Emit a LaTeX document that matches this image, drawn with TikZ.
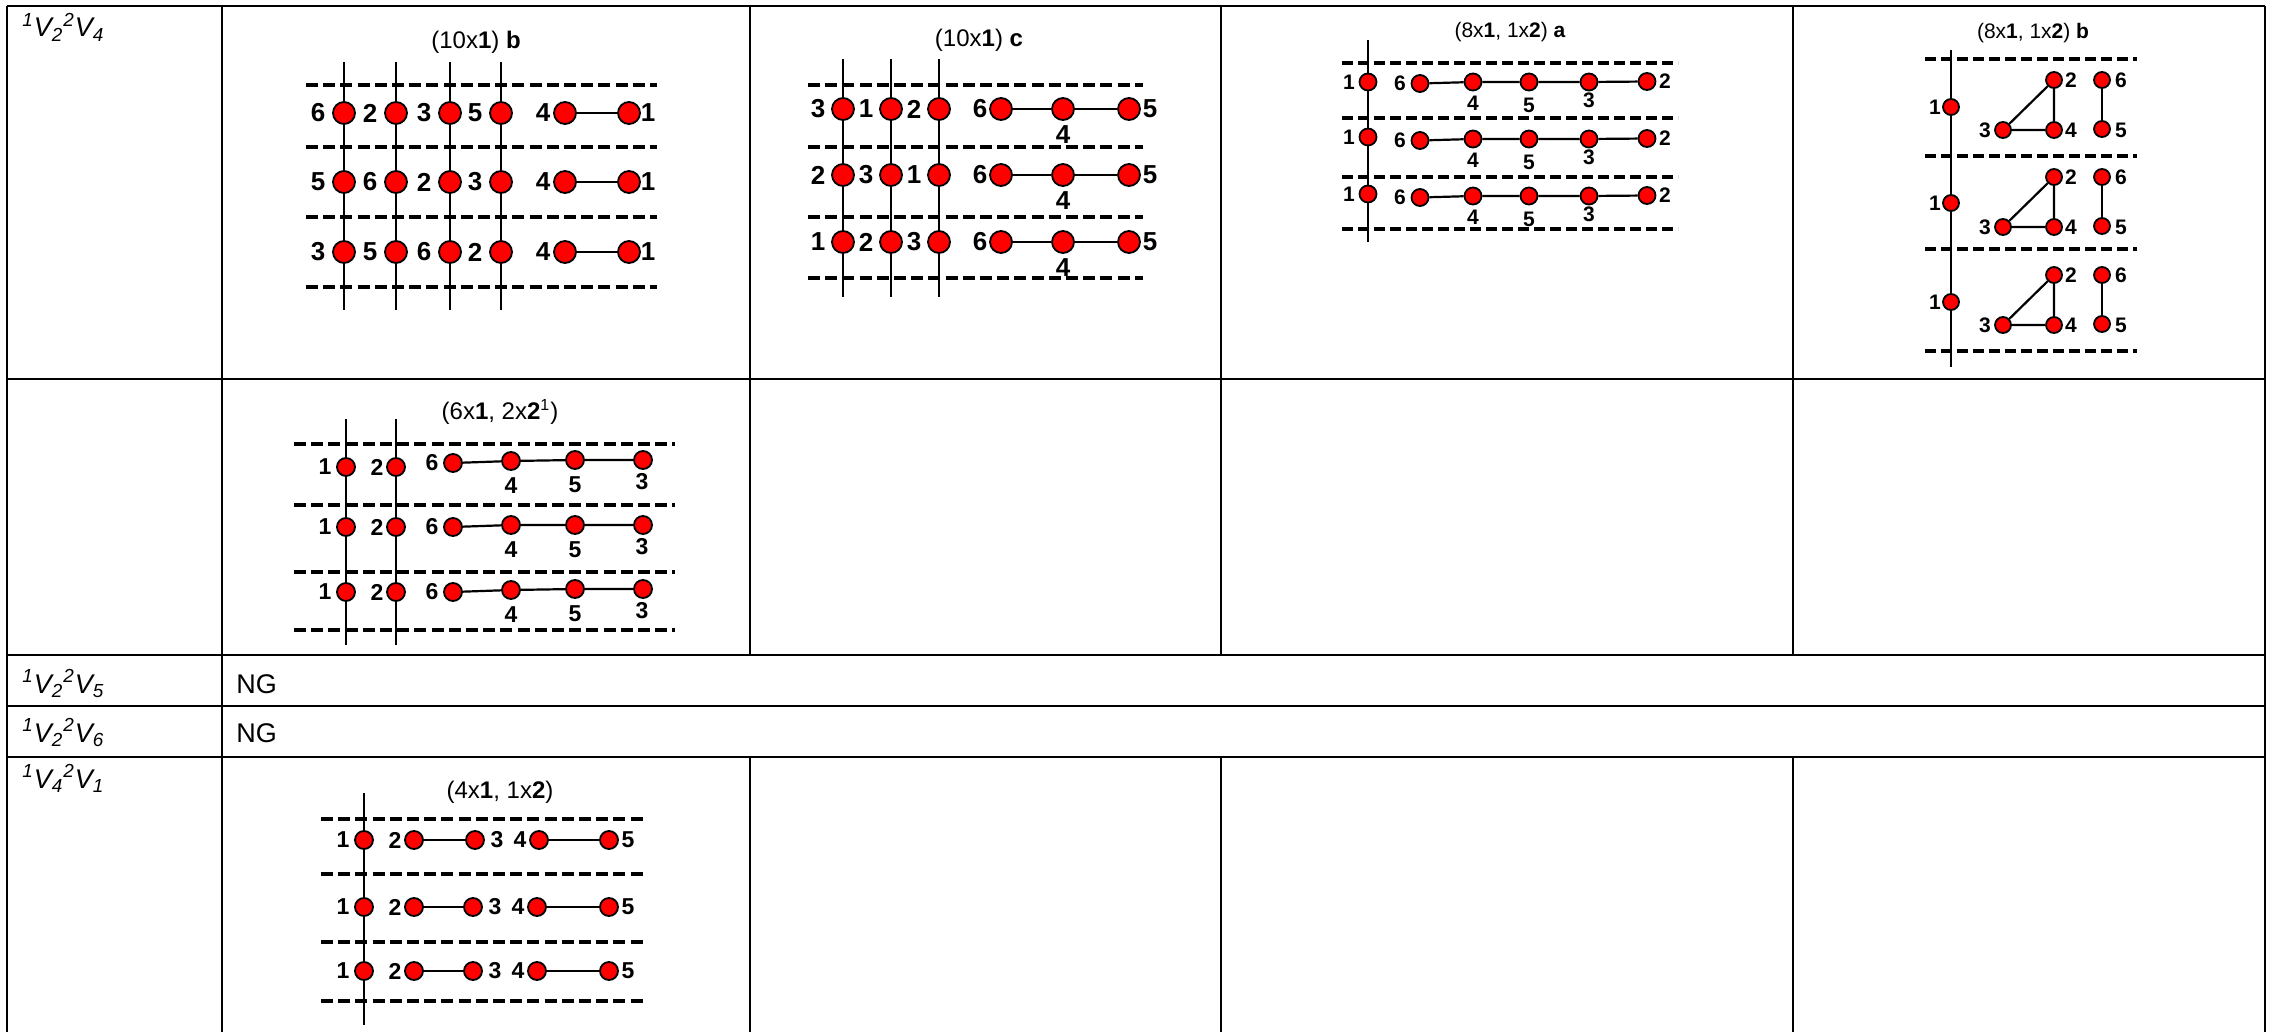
\documentclass[tikz,border=0pt]{standalone}
\usepackage{fontspec}
\setmainfont{Liberation Sans}
\begin{document}
\begin{tikzpicture}[x=0.5pt,y=-0.5pt,
  tbl/.style={line width=1pt},
  dsh/.style={line width=2pt, dash pattern=on 6pt off 2.6pt},
  dshs/.style={line width=1.7pt, dash pattern=on 5.5pt off 2.5pt},
  vln/.style={line width=1.4pt},
  edg/.style={line width=1.1pt},
  dotbase/.style={circle, draw=black, fill=red, line width=0.9pt, inner sep=0pt},
  dotA/.style={dotbase, minimum size=11pt},
  dotB/.style={dotbase, minimum size=8.5pt},
  dotC/.style={dotbase, minimum size=8pt},
  dotD/.style={dotbase, minimum size=9pt},
  labA/.style={inner sep=0pt, font=\fontsize{13}{15}\selectfont\bfseries},
  labB/.style={inner sep=0pt, font=\fontsize{10.5}{12}\selectfont\bfseries},
  labD/.style={inner sep=0pt, font=\fontsize{11.5}{13}\selectfont\bfseries},
  ttl/.style={inner sep=0pt, font=\fontsize{12}{14}\selectfont},
  ttls/.style={inner sep=0pt, font=\fontsize{10.5}{12}\selectfont},
  txt/.style={inner sep=0pt, anchor=base west, font=\fontsize{13.5}{16}\selectfont},
]
\useasboundingbox (0,0) rectangle (2273,1032);
% ---------------- table ----------------
\draw[tbl] (7,6) -- (2265,6);
\foreach \y in {379,655,706,757} \draw[tbl] (7,\y) -- (2265,\y);
\foreach \x in {7,222,2265} \draw[tbl] (\x,6) -- (\x,1032);
\foreach \x in {750,1221,1793} {
  \draw[tbl] (\x,6) -- (\x,655);
  \draw[tbl] (\x,757) -- (\x,1032);
}
\node[txt] (r1) at (22,37) {\itshape\textsuperscript{1}V\textsubscript{2}\textsuperscript{2}V\textsubscript{4}};
\node[txt] (r3) at (22,693) {\itshape\textsuperscript{1}V\textsubscript{2}\textsuperscript{2}V\textsubscript{5}};
\node[txt] (r4) at (22,742) {\itshape\textsuperscript{1}V\textsubscript{2}\textsuperscript{2}V\textsubscript{6}};
\node[txt] (r5) at (22,788) {\itshape\textsuperscript{1}V\textsubscript{4}\textsuperscript{2}V\textsubscript{1}};
\node[txt] (ng1) at (236,693) {NG};
\node[txt] (ng2) at (236,742) {NG};

% ---------------- diagram 1: (10x1) b ----------------
\node[ttl] (t1) at (476,42) {(10x\textbf{1}) \textbf{b}};
\foreach \x in {344,396,450,501} \draw[vln] (\x,62) -- (\x,310);
\foreach \y in {85,147,217,287} \draw[dsh] (306,\y) -- (657,\y);
\foreach \r/\y/\a/\b/\c/\d in {1/113/6/2/3/5, 2/182/5/6/2/3, 3/252/3/5/6/2} {
  \foreach \x/\l [count=\i] in {344/\a, 396/\b, 450/\c, 501/\d} {
    \node[dotA] (a\r-\i) at (\x,\y) {};
    \node[labA] (al\r-\i) at (\x-26,\y) {\l};
  }
  \node[dotA] (a\r-x) at (565,\y) {};
  \node[dotA] (a\r-y) at (629,\y) {};
  \draw[edg] (a\r-x) -- (a\r-y);
  \node[labA] (al\r-x) at (543,\y) {4};
  \node[labA] (al\r-y) at (648,\y) {1};
}

% ---------------- diagram 2: (10x1) c ----------------
\node[ttl] (t2) at (979,40) {(10x\textbf{1}) \textbf{c}};
\foreach \x in {843,891,939} \draw[vln] (\x,59) -- (\x,297);
\foreach \y in {85,147,217,278} \draw[dsh] (808,\y) -- (1143,\y);
\foreach \r/\y/\a/\b/\c in {1/109/3/1/2, 2/175/2/3/1, 3/242/1/2/3} {
  \foreach \x/\l [count=\i] in {843/\a, 891/\b, 939/\c} {
    \node[dotA] (b\r-\i) at (\x,\y) {};
    \node[labA] (bl\r-\i) at (\x-25,\y) {\l};
  }
  \node[dotA] (b\r-6) at (1001,\y) {};
  \node[dotA] (b\r-4) at (1063,\y) {};
  \node[dotA] (b\r-5) at (1129,\y) {};
  \draw[edg] (b\r-6) -- (b\r-4) -- (b\r-5);
  \node[labA] (bl\r-6) at (980,\y) {6};
  \node[labA] (bl\r-4) at (1063,\y+26) {4};
  \node[labA] (bl\r-5) at (1150,\y) {5};
}

% ---------------- diagram 3: (8x1, 1x2) a ----------------
\node[ttls] (t3) at (1510,32) {(8x\textbf{1}, 1x\textbf{2}) \textbf{a}};
\draw[vln] (1368,40) -- (1368,242);
\foreach \y in {63,118,177,229} \draw[dshs] (1342,\y) -- (1678,\y);
\foreach \r/\yv/\yc in {1/82/82, 2/137/139, 3/194/196} {
  \node[dotB] (c\r-1) at (1368,\yv) {};
  \node[labB] (cl\r-1) at (1349,\yv) {1};
  \node[dotB] (c\r-6) at (1420,\yc+1.5) {};
  \node[dotB] (c\r-4) at (1473,\yc) {};
  \node[dotB] (c\r-5) at (1529,\yc) {};
  \node[dotB] (c\r-3) at (1589,\yc) {};
  \node[dotB] (c\r-2) at (1647,\yc-0.5) {};
  \draw[edg] (c\r-6) -- (c\r-4) -- (c\r-5) -- (c\r-3) -- (c\r-2);
  \node[labB] (cl\r-6) at (1400,\yc+1.5) {6};
  \node[labB] (cl\r-4) at (1473,\yc+21) {4};
  \node[labB] (cl\r-5) at (1529,\yc+23) {5};
  \node[labB] (cl\r-3) at (1589,\yc+18) {3};
  \node[labB] (cl\r-2) at (1665,\yc-0.5) {2};
}

% ---------------- diagram 4: (8x1, 1x2) b ----------------
\node[ttls] (t4) at (2033,33) {(8x\textbf{1}, 1x\textbf{2}) \textbf{b}};
\draw[vln] (1951,50) -- (1951,367);
\foreach \y in {59,156,249,351} \draw[dshs] (1925,\y) -- (2137,\y);
\foreach \r/\yv/\T in {1/107/80, 2/203/177, 3/302/275} {
  \node[dotC] (d\r-1) at (1951,\yv) {};
  \node[labB] (dl\r-1) at (1935,\yv) {1};
  \node[dotC] (d\r-2) at (2054,\T) {};
  \node[dotC] (d\r-3) at (2003,\T+50) {};
  \node[dotC] (d\r-4) at (2054,\T+50) {};
  \node[dotC] (d\r-6) at (2102,\T) {};
  \node[dotC] (d\r-5) at (2102,\T+49) {};
  \draw[edg] (d\r-3) -- (d\r-2) -- (d\r-4) -- (d\r-3);
  \draw[edg] (d\r-6) -- (d\r-5);
  \node[labB] (dl\r-2) at (2071,\T) {2};
  \node[labB] (dl\r-4) at (2071,\T+50) {4};
  \node[labB] (dl\r-3) at (1985,\T+50) {3};
  \node[labB] (dl\r-6) at (2121,\T) {6};
  \node[labB] (dl\r-5) at (2121,\T+50) {5};
}

% ---------------- diagram 5: (6x1, 2x2^1) ----------------
\node[ttl] (t5) at (500,412) {(6x\textbf{1}, 2x\textbf{2}\textsuperscript{1})};
\foreach \x in {346,396} \draw[vln] (\x,419) -- (\x,645);
\foreach \y in {444,505,572,630} \draw[dsh] (294,\y) -- (675,\y);
\foreach \r/\yv/\ys/\yf/\yg/\yh in {1/467/463/461/460/460, 2/527/527/525/525/525, 3/592/592/590/589/589} {
  \node[dotD] (e\r-1) at (346,\yv) {};
  \node[dotD] (e\r-2) at (396,\yv) {};
  \node[labD] (el\r-1) at (325,\yv) {1};
  \node[labD] (el\r-2) at (377,\yv) {2};
  \node[dotD] (e\r-6) at (453,\ys) {};
  \node[dotD] (e\r-4) at (511,\yf) {};
  \node[dotD] (e\r-5) at (575,\yg) {};
  \node[dotD] (e\r-3) at (643,\yh) {};
  \draw[edg] (e\r-6) -- (e\r-4) -- (e\r-5) -- (e\r-3);
  \node[labD] (el\r-6) at (432,\ys) {6};
  \node[labD] (el\r-4) at (511,\yf+25) {4};
  \node[labD] (el\r-5) at (575,\yg+25) {5};
  \node[labD] (el\r-3) at (642,\yh+22) {3};
}

% ---------------- diagram 6: (4x1, 1x2) ----------------
\node[ttl] (t6) at (500,792) {(4x\textbf{1}, 1x\textbf{2})};
\draw[vln] (364,793) -- (364,1025);
\foreach \y in {819,874,942,1001} \draw[dsh] (321,\y) -- (647,\y);
\foreach \r/\y/\xc/\xd in {1/840/475/539, 2/907/473/537, 3/971/473/537} {
  \node[dotD] (f\r-1) at (364,\y) {};
  \node[dotD] (f\r-2) at (414,\y) {};
  \node[dotD] (f\r-3) at (\xc,\y) {};
  \node[dotD] (f\r-4) at (\xd,\y) {};
  \node[dotD] (f\r-5) at (609,\y) {};
  \draw[edg] (f\r-2) -- (f\r-3);
  \draw[edg] (f\r-4) -- (f\r-5);
  \node[labD] (fl\r-1) at (343,\y) {1};
  \node[labD] (fl\r-2) at (395,\y) {2};
  \node[labD] (fl\r-3) at (\xc+22,\y) {3};
  \node[labD] (fl\r-4) at (\xd-19,\y) {4};
  \node[labD] (fl\r-5) at (628,\y) {5};
}
\end{tikzpicture}
\end{document}
